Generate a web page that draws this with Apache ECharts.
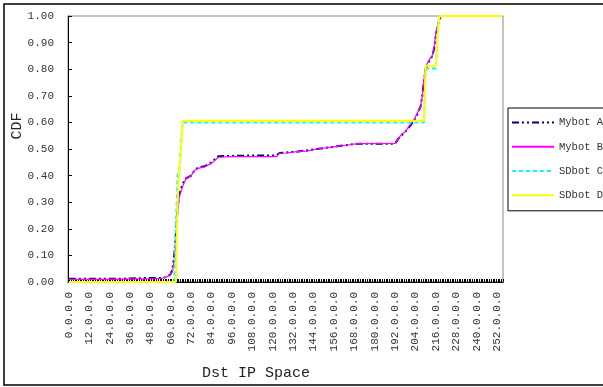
<!DOCTYPE html>
<html>
<head>
<meta charset="utf-8">
<script src="https://cdn.jsdelivr.net/npm/echarts@6/dist/echarts.min.js"></script>
<style>html,body{margin:0;padding:0;background:#fff;}#c{width:603px;height:387px;}</style>
</head>
<body>
<div id="c"></div>
<script>
// Category names: first octet of destination IP, 0..255
var categories = [];
for (var i = 0; i < 256; i++) categories.push(i + '.0.0.0');

var yTicks = [0, 0.1, 0.2, 0.3, 0.4, 0.5, 0.6, 0.7, 0.8, 0.9, 1.0];
var seriesNames = ['Mybot A', 'Mybot B', 'SDbot C', 'SDbot D'];

// [category index, CDF]
var mybotA = [[0,0.012],[30,0.012],[45,0.015],[55,0.015],[58,0.02],[60,0.03],[61,0.05],[62,0.1],[63,0.18],[64,0.28],[65,0.33],[67,0.37],[69,0.39],[72,0.40],[74,0.42],[76,0.43],[80,0.435],[84,0.45],[88,0.473],[96,0.474],[110,0.476],[122,0.476],[124,0.485],[134,0.49],[146,0.50],[158,0.51],[170,0.52],[192,0.52],[194,0.54],[196,0.552],[198,0.565],[200,0.58],[203,0.605],[205,0.63],[207,0.66],[208,0.70],[209,0.76],[210,0.80],[212,0.83],[214,0.85],[215,0.88],[216,0.93],[217,0.96],[218,0.985],[219,1.0],[255,1.0]];
var mybotB = [[0,0.01],[20,0.01],[40,0.012],[50,0.013],[55,0.014],[58,0.02],[60,0.03],[61,0.04],[62,0.08],[63,0.15],[64,0.26],[65,0.32],[67,0.36],[69,0.39],[72,0.40],[74,0.42],[76,0.427],[80,0.433],[84,0.446],[88,0.469],[96,0.471],[122,0.471],[124,0.484],[128,0.485],[134,0.49],[140,0.492],[146,0.50],[152,0.505],[158,0.51],[164,0.515],[170,0.52],[192,0.521],[194,0.54],[196,0.557],[198,0.565],[200,0.584],[203,0.609],[205,0.634],[207,0.659],[208,0.70],[209,0.76],[210,0.81],[212,0.835],[214,0.853],[215,0.885],[216,0.935],[217,0.96],[218,0.985],[219,1.0],[255,1.0]];
var sdbotC = [[0,0],[62,0],[63,0.2],[64,0.40],[65,0.42],[66,0.52],[67,0.60],[209,0.60],[210,0.803],[216,0.803],[217,0.95],[218,1.0],[255,1.0]];
var sdbotD = [[0,0],[63,0],[64,0.30],[65,0.42],[66,0.50],[67,0.606],[209,0.606],[210,0.813],[216,0.813],[217,0.92],[218,1.0],[255,1.0]];

var FONT = '"Liberation Mono", "DejaVu Sans Mono", monospace';
var chart = echarts.init(document.getElementById('c'), null, {renderer: 'canvas'});
chart.setOption({
  backgroundColor: '#fff',
  animation: false,
  grid: {left: 68, top: 16, right: 100, bottom: 105, show: true, borderColor: '#888', borderWidth: 1},
  legend: {
    orient: 'vertical', left: 508, top: 108,
    itemWidth: 42, itemHeight: 14, itemGap: 13,
    padding: [9, 60, 10, 3],
    borderColor: '#000', borderWidth: 1, backgroundColor: '#fff',
    itemStyle: {opacity: 0},
    textStyle: {fontFamily: FONT, fontSize: 10.5, color: '#333', padding: [0,0,0,0]},
    data: seriesNames
  },
  xAxis: {
    type: 'category', data: categories, boundaryGap: true,
    axisLine: {show: true, lineStyle: {color: '#000', width: 1}},
    axisTick: {show: true, interval: 0, inside: true, length: 3, lineStyle: {color: '#000'}},
    axisLabel: {interval: 11, rotate: 90, margin: 10, fontFamily: FONT, fontSize: 11, color: '#333'},
    splitLine: {show: false}
  },
  yAxis: {
    type: 'value', min: 0, max: 1, interval: 0.1,
    axisLine: {show: true, lineStyle: {color: '#000', width: 1}},
    axisTick: {show: true, inside: true, length: 4, lineStyle: {color: '#000'}},
    axisLabel: {margin: 14, fontFamily: FONT, fontSize: 11, color: '#333',
      formatter: function (v) { return v.toFixed(2); }},
    splitLine: {show: false}
  },
  graphic: [
    {type: 'rect', shape: {x: 4, y: 4, width: 700, height: 381}, style: {fill: null, stroke: '#000', lineWidth: 1.5}, silent: true, z: 100},
    {type: 'text', x: 256, y: 373, style: {text: 'Dst IP Space', font: '15px ' + FONT, fill: '#222', textAlign: 'center', textVerticalAlign: 'middle'}, z: 100},
    {type: 'text', x: 17, y: 126, rotation: Math.PI / 2, style: {text: 'CDF', font: '15px ' + FONT, fill: '#222', textAlign: 'center', textVerticalAlign: 'middle'}, z: 100}
  ],
  series: [
    {name: seriesNames[0], type: 'line', data: mybotA, symbol: 'none', lineStyle: {color: '#000080', width: 2, type: [7, 3, 2, 3, 2, 3]}, itemStyle: {color: '#000080'}},
    {name: seriesNames[1], type: 'line', data: mybotB, symbol: 'none', lineStyle: {color: '#FF00FF', width: 1.2}, itemStyle: {color: '#FF00FF'}},
    {name: seriesNames[2], type: 'line', data: sdbotC, symbol: 'none', lineStyle: {color: '#00FFFF', width: 2, type: [4, 3]}, itemStyle: {color: '#00FFFF'}},
    {name: seriesNames[3], type: 'line', data: sdbotD, symbol: 'none', lineStyle: {color: '#FFFF00', width: 2}, itemStyle: {color: '#FFFF00'}}
  ]
});
</script>
</body>
</html>
